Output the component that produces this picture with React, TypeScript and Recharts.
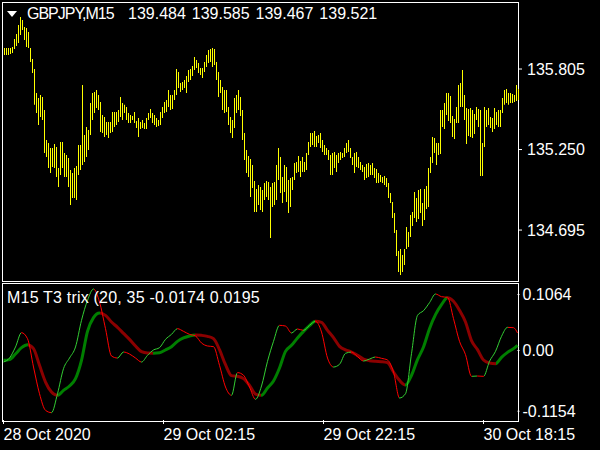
import { ComposedChart, Bar, LineChart, Line, XAxis, YAxis } from 'recharts';

const FONT = '"Liberation Sans", Arial, sans-serif';

// GBPJPY M15 bars, oldest first
const barHigh = [
  135.950, 135.950, 135.950, 135.950, 135.957, 136.012, 136.046, 136.109, 136.164, 136.143,
  136.095, 136.088, 136.060, 135.950, 135.874, 135.805, 135.639, 135.605, 135.626, 135.612,
  135.523, 135.316, 135.295, 135.261, 135.261, 135.288, 135.268, 135.123, 135.302, 135.302,
  135.226, 135.213, 135.192, 135.109, 135.088, 135.123, 135.137, 135.281, 135.281, 135.695,
  135.350, 135.405, 135.385, 135.571, 135.639, 135.646, 135.660, 135.626, 135.578, 135.488,
  135.474, 135.440, 135.440, 135.440, 135.509, 135.509, 135.509, 135.523, 135.612, 135.571,
  135.558, 135.544, 135.502, 135.488, 135.481, 135.509, 135.447, 135.467, 135.440, 135.454,
  135.433, 135.467, 135.502, 135.530, 135.502, 135.488, 135.467, 135.454, 135.509, 135.544,
  135.578, 135.592, 135.660, 135.626, 135.626, 135.660, 135.805, 135.784, 135.708, 135.715,
  135.729, 135.757, 135.798, 135.805, 135.826, 135.888, 135.867, 135.846, 135.812, 135.812,
  135.853, 135.902, 135.936, 135.943, 135.950, 135.943, 135.853, 135.784, 135.729, 135.681,
  135.660, 135.660, 135.544, 135.474, 135.454, 135.605, 135.626, 135.660, 135.612, 135.523,
  135.364, 135.247, 135.206, 135.185, 135.144, 135.033, 134.978, 135.006, 134.992, 134.971,
  135.019, 135.033, 135.026, 134.992, 135.019, 135.026, 135.144, 135.261, 135.199, 135.061,
  135.144, 135.130, 135.040, 135.054, 135.061, 135.157, 135.164, 135.206, 135.171, 135.199,
  135.164, 135.226, 135.302, 135.364, 135.364, 135.378, 135.343, 135.350, 135.364, 135.316,
  135.281, 135.261, 135.247, 135.213, 135.226, 135.233, 135.213, 135.226, 135.233, 135.226,
  135.261, 135.295, 135.316, 135.261, 135.199, 135.226, 135.233, 135.199, 135.164, 135.144,
  135.130, 135.150, 135.157, 135.144, 135.157, 135.123, 135.116, 135.088, 135.075, 135.061,
  135.068, 135.054, 135.019, 134.950, 134.888, 134.812, 134.695, 134.550, 134.564, 134.523,
  134.564, 134.716, 134.681, 134.799, 134.819, 134.957, 134.916, 134.971, 134.978, 134.881,
  134.978, 134.999, 135.123, 135.199, 135.337, 135.330, 135.295, 135.295, 135.523, 135.523,
  135.571, 135.639, 135.639, 135.619, 135.481, 135.461, 135.544, 135.695, 135.708, 135.798,
  135.626, 135.536, 135.530, 135.536, 135.523, 135.495, 135.544, 135.530, 135.523, 135.295,
  135.544, 135.523, 135.536, 135.474, 135.467, 135.536, 135.509, 135.523, 135.523, 135.605,
  135.660, 135.667, 135.639, 135.639, 135.633, 135.626, 135.695, 135.667,
];

const barLow = [
  135.902, 135.902, 135.902, 135.908, 135.915, 135.943, 135.964, 135.984, 136.040, 136.074,
  136.005, 135.957, 135.950, 135.853, 135.777, 135.558, 135.502, 135.419, 135.474, 135.454,
  135.226, 135.199, 135.123, 135.088, 135.130, 135.123, 135.061, 134.992, 135.075, 135.123,
  135.061, 135.061, 134.992, 134.868, 134.916, 134.916, 134.902, 135.075, 135.109, 135.144,
  135.164, 135.199, 135.247, 135.350, 135.454, 135.502, 135.536, 135.523, 135.371, 135.364,
  135.337, 135.350, 135.330, 135.364, 135.371, 135.405, 135.419, 135.440, 135.474, 135.454,
  135.502, 135.454, 135.433, 135.433, 135.454, 135.433, 135.399, 135.337, 135.392, 135.399,
  135.392, 135.392, 135.454, 135.467, 135.433, 135.419, 135.405, 135.412, 135.419, 135.467,
  135.502, 135.509, 135.544, 135.523, 135.530, 135.592, 135.626, 135.674, 135.646, 135.660,
  135.674, 135.639, 135.715, 135.729, 135.757, 135.798, 135.812, 135.777, 135.764, 135.743,
  135.784, 135.819, 135.846, 135.853, 135.819, 135.833, 135.729, 135.612, 135.639, 135.523,
  135.502, 135.509, 135.419, 135.364, 135.330, 135.399, 135.502, 135.523, 135.481, 135.316,
  135.178, 135.088, 135.061, 134.923, 134.985, 134.819, 134.819, 134.868, 134.833, 134.819,
  134.902, 134.923, 134.902, 134.640, 134.854, 134.868, 134.902, 135.040, 134.950, 134.881,
  134.957, 134.888, 134.812, 134.854, 134.971, 135.040, 135.088, 135.095, 135.061, 135.095,
  135.095, 135.109, 135.213, 135.268, 135.281, 135.268, 135.268, 135.295, 135.261, 135.233,
  135.213, 135.213, 135.178, 135.075, 135.075, 135.123, 135.095, 135.157, 135.178, 135.192,
  135.199, 135.226, 135.233, 135.192, 135.144, 135.088, 135.130, 135.123, 135.109, 135.095,
  135.040, 135.054, 135.061, 135.075, 135.075, 135.054, 135.019, 135.019, 135.026, 135.019,
  135.006, 134.992, 134.916, 134.881, 134.778, 134.675, 134.516, 134.406, 134.385, 134.406,
  134.454, 134.564, 134.578, 134.647, 134.723, 134.778, 134.750, 134.771, 134.812, 134.723,
  134.764, 134.840, 134.854, 135.088, 135.157, 135.226, 135.144, 135.213, 135.219, 135.405,
  135.392, 135.488, 135.447, 135.433, 135.337, 135.323, 135.433, 135.433, 135.544, 135.544,
  135.454, 135.288, 135.343, 135.337, 135.330, 135.357, 135.454, 135.405, 135.068, 135.068,
  135.268, 135.405, 135.419, 135.399, 135.371, 135.392, 135.419, 135.405, 135.405, 135.502,
  135.558, 135.571, 135.558, 135.571, 135.571, 135.578, 135.585, 135.592,
];

const priceTicks = [134.695, 135.25, 135.805];
const priceLabels = ['134.695', '135.250', '135.805'];

// T3 trix, read every 3rd bar
const TRIX_STEP = 3;
const trixFast = [
  -0.0219, -0.0143, 0.0067, 0.0339, 0.0225, -0.0314, -0.0821, -0.1137, -0.1181, -0.0821,
  -0.0345, -0.0143, 0.0067, 0.0573, 0.0953, 0.1169, 0.0922, 0.0415, -0.0105, -0.0143,
  -0.0029, -0.0067, -0.0143, -0.0219, -0.0092, 0.0010, 0.0054, 0.0212, 0.0307, 0.0415,
  0.0364, 0.0307, 0.0276, 0.0143, 0.0086, 0.0073, -0.0282, -0.0694, -0.0852, -0.0420,
  -0.0470, -0.0694, -0.0928, -0.0675, -0.0206, 0.0174, 0.0478, 0.0465, 0.0333, 0.0409,
  0.0383, 0.0478, 0.0554, 0.0352, -0.0143, -0.0314, -0.0263, -0.0054, -0.0029, -0.0117,
  -0.0200, -0.0162, -0.0124, -0.0149, -0.0181, -0.0409, -0.0903, -0.0821, -0.0060, 0.0668,
  0.0757, 0.0909, 0.1074, 0.1023, 0.1010, 0.0605, 0.0174, -0.0079, -0.0491, -0.0485,
  -0.0491, -0.0206, -0.0016, 0.0269, 0.0440, 0.0434, 0.0333,
];
const trixSlow = [
  -0.0187, -0.0174, -0.0067, 0.0054, 0.0111, 0.0035, -0.0282, -0.0599, -0.0789, -0.0852,
  -0.0757, -0.0675, -0.0535, -0.0187, 0.0364, 0.0624, 0.0713, 0.0668, 0.0542, 0.0440,
  0.0326, 0.0212, 0.0086, -0.0022, -0.0048, -0.0050, -0.0041, 0.0010, 0.0073, 0.0174,
  0.0238, 0.0276, 0.0295, 0.0288, 0.0269, 0.0225, 0.0016, -0.0269, -0.0478, -0.0490,
  -0.0535, -0.0662, -0.0827, -0.0852, -0.0713, -0.0580, -0.0333, -0.0016, 0.0098, 0.0238,
  0.0364, 0.0472, 0.0554, 0.0535, 0.0383, 0.0244, 0.0079, 0.0010, -0.0029, -0.0092,
  -0.0162, -0.0193, -0.0206, -0.0212, -0.0231, -0.0409, -0.0567, -0.0656, -0.0472, -0.0174,
  0.0067, 0.0415, 0.0681, 0.0871, 0.1004, 0.0935, 0.0763, 0.0542, 0.0187, 0.0016,
  -0.0181, -0.0238, -0.0250, -0.0130, -0.0035, 0.0035, 0.0098,
];
const trixTicks = [-0.1154, 0, 0.1064];
const trixLabels = ['-0.1154', '0.00', '0.1064'];

const timeTicks = [0, 80, 160, 240];
const timeLabels = ['28 Oct 2020', '29 Oct 02:15', '29 Oct 22:15', '30 Oct 18:15'];

const lastBar = barHigh.length - 1;
const barRows = barHigh.map((h, i) => ({ bar: i, range: [barLow[i], h] }));
const trixRows = trixFast.map((f, k) => ({
  bar: Math.min(k * TRIX_STEP, lastBar),
  fast: f,
  slow: trixSlow[k],
}));

// colour each stretch of a line by its direction (rising / falling)
function slopeStops(vals: number[], up: string, down: string) {
  const bars = trixRows.map(r => r.bar);
  const first = bars[0];
  const span = bars[bars.length - 1] - first;
  const stops: { o: number; c: string }[] = [];
  for (let j = 0; j < vals.length - 1; j++) {
    const c = vals[j + 1] >= vals[j] ? up : down;
    stops.push({ o: (bars[j] - first) / span, c });
    stops.push({ o: (bars[j + 1] - first) / span, c });
  }
  return stops;
}

const fastStops = slopeStops(trixFast, '#32cd32', '#ff0000');
const slowStops = slopeStops(trixSlow, '#007f00', '#8b0000');

const TimeTick = (props: any) => {
  const { x, y, payload } = props;
  const idx = timeTicks.indexOf(payload.value);
  return (
    <text x={x} y={y} dy="0.71em" fill="#fff" fontSize={16} fontFamily={FONT} textAnchor="start">
      {timeLabels[idx]}
    </text>
  );
};

const txt: React.CSSProperties = {
  position: 'absolute',
  color: '#fff',
  fontSize: 16,
  lineHeight: '16px',
  fontFamily: FONT,
  whiteSpace: 'pre',
};

export default function App() {
  return (
    <div style={{ position: 'absolute', left: 0, top: 0, width: 600, height: 450, background: '#000', overflow: 'hidden' }}>
      <div style={{ position: 'absolute', left: 2, top: 2, width: 517, height: 280, border: '1px solid #fff', boxSizing: 'border-box' }} />
      <div style={{ position: 'absolute', left: 2, top: 283, width: 517, height: 139, border: '1px solid #fff', boxSizing: 'border-box' }} />

      <div style={{ position: 'absolute', left: 0, top: 0 }}>
        <ComposedChart width={600} height={281} data={barRows} margin={{ top: 3, right: 0, bottom: 0, left: 3 }}>
          <XAxis dataKey="bar" hide />
          <YAxis
            orientation="right"
            width={81}
            domain={[134.344, 136.26]}
            allowDataOverflow
            ticks={priceTicks}
            interval={0}
            tickFormatter={(v: number) => priceLabels[priceTicks.indexOf(v)]}
            tick={{ fill: '#fff', fontSize: 16, fontFamily: FONT }}
            tickLine={{ stroke: '#fff' }}
            tickSize={3}
            tickMargin={5}
            axisLine={false}
          />
          <Bar dataKey="range" fill="#ffff00" barSize={1} isAnimationActive={false} />
        </ComposedChart>
      </div>

      <div style={{ position: 'absolute', left: 0, top: 283 }}>
        <LineChart width={600} height={167} data={trixRows} margin={{ top: 1, right: 0, bottom: 0, left: 3.5 }}>
          <defs>
            <linearGradient id="fastGrad" x1="0" y1="0" x2="1" y2="0">
              {fastStops.map((s, i) => <stop key={i} offset={s.o} stopColor={s.c} />)}
            </linearGradient>
            <linearGradient id="slowGrad" x1="0" y1="0" x2="1" y2="0">
              {slowStops.map((s, i) => <stop key={i} offset={s.o} stopColor={s.c} />)}
            </linearGradient>
          </defs>
          <XAxis
            type="number"
            dataKey="bar"
            domain={[0, lastBar]}
            ticks={timeTicks}
            interval={0}
            tick={<TimeTick />}
            tickLine={{ stroke: '#fff' }}
            tickSize={4}
            tickMargin={5}
            axisLine={false}
            height={30}
          />
          <YAxis
            orientation="right"
            width={82.5}
            domain={[-0.1321, 0.1264]}
            allowDataOverflow
            ticks={trixTicks}
            interval={0}
            tickFormatter={(v: number) => trixLabels[trixTicks.indexOf(v)]}
            tick={{ fill: '#fff', fontSize: 16, fontFamily: FONT }}
            tickLine={{ stroke: '#fff' }}
            tickSize={2}
            tickMargin={3}
            axisLine={false}
          />
          <Line type="monotone" dataKey="slow" stroke="url(#slowGrad)" strokeWidth={3} dot={false} isAnimationActive={false} />
          <Line type="monotone" dataKey="fast" stroke="url(#fastGrad)" strokeWidth={1} dot={false} isAnimationActive={false} />
        </LineChart>
      </div>

      <div style={{ position: 'absolute', left: 7, top: 11, width: 0, height: 0, borderLeft: '5px solid transparent', borderRight: '5px solid transparent', borderTop: '6px solid #fff' }} />
      <div style={{ ...txt, left: 27, top: 6, letterSpacing: '-1px' }}>GBPJPY,M15</div>
      <div style={{ ...txt, left: 128, top: 6, wordSpacing: '1.5px' }}>139.484 139.585 139.467 139.521</div>
      <div style={{ ...txt, left: 7, top: 290, letterSpacing: '0.2px' }}>M15 T3 trix (20, 35 -0.0174 0.0195</div>
    </div>
  );
}
